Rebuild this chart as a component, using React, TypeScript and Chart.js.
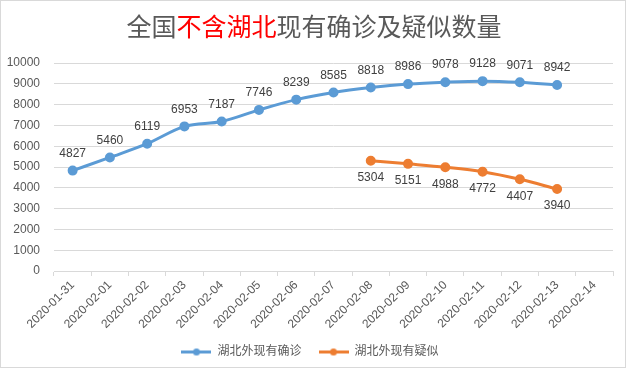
import React, { useEffect, useRef } from "react";
import { Chart, registerables } from "chart.js";

Chart.register(...registerables);

const categories = [
  "2020-01-31", "2020-02-01", "2020-02-02", "2020-02-03", "2020-02-04",
  "2020-02-05", "2020-02-06", "2020-02-07", "2020-02-08", "2020-02-09",
  "2020-02-10", "2020-02-11", "2020-02-12", "2020-02-13", "2020-02-14",
];
const confirmedValues: (number | null)[] = [
  4827, 5460, 6119, 6953, 7187, 7746, 8239, 8585, 8818, 8986, 9078, 9128, 9071, 8942, null,
];
const suspectedValues: (number | null)[] = [
  null, null, null, null, null, null, null, null, 5304, 5151, 4988, 4772, 4407, 3940, null,
];
const seriesNames = ["湖北外现有确诊", "湖北外现有疑似"];
const titleParts = [
  { text: "全国", red: false },
  { text: "不含湖北", red: true },
  { text: "现有确诊及疑似数量", red: false },
];

const BLUE = "#5B9BD5";
const ORANGE = "#ED7D31";
const FONT = "'Liberation Sans', 'Noto Sans CJK SC', sans-serif";

function makeMarker(color: string): HTMLCanvasElement {
  const c = document.createElement("canvas");
  c.width = 30;
  c.height = 9;
  const ctx = c.getContext("2d")!;
  ctx.strokeStyle = color;
  ctx.lineWidth = 3;
  ctx.beginPath();
  ctx.moveTo(0, 4.5);
  ctx.lineTo(30, 4.5);
  ctx.stroke();
  ctx.fillStyle = color;
  ctx.beginPath();
  ctx.arc(15, 4.5, 3.5, 0, Math.PI * 2);
  ctx.fill();
  return c;
}

const bgPlugin = {
  id: "bg",
  beforeDraw(chart: any) {
    const { ctx, width, height } = chart;
    ctx.save();
    ctx.fillStyle = "#ffffff";
    ctx.fillRect(0, 0, width, height);
    ctx.strokeStyle = "#d9d9d9";
    ctx.lineWidth = 1;
    ctx.strokeRect(0.5, 0.5, width - 1, height - 1);
    ctx.restore();
  },
};

const titlePlugin = {
  id: "mixedTitle",
  afterDraw(chart: any) {
    const ctx = chart.ctx as CanvasRenderingContext2D;
    ctx.save();
    ctx.font = "25px 'Noto Sans CJK SC', sans-serif";
    ctx.textBaseline = "middle";
    ctx.textAlign = "left";
    const widths = titleParts.map((p) => ctx.measureText(p.text).width);
    const total = widths.reduce((a, b) => a + b, 0);
    let x = 314 - total / 2;
    titleParts.forEach((p, i) => {
      ctx.fillStyle = p.red ? "#FF0000" : "#595959";
      ctx.fillText(p.text, x, 26);
      x += widths[i];
    });
    ctx.restore();
  },
};

const labelPlugin = {
  id: "pointLabels",
  afterDatasetsDraw(chart: any) {
    const ctx = chart.ctx as CanvasRenderingContext2D;
    ctx.save();
    ctx.font = `12px ${FONT}`;
    ctx.fillStyle = "#404040";
    ctx.textAlign = "center";
    ctx.textBaseline = "middle";
    chart.data.datasets.forEach((ds: any, di: number) => {
      const meta = chart.getDatasetMeta(di);
      meta.data.forEach((pt: any, i: number) => {
        const v = ds.data[i];
        if (v === null || v === undefined) return;
        const dy = di === 0 ? -17 : 17;
        ctx.fillText(String(v), pt.x, pt.y + dy);
      });
    });
    ctx.restore();
  },
};

export default function App() {
  const ref = useRef<HTMLCanvasElement>(null);
  useEffect(() => {
    document.body.style.margin = "0";
    const markers = [makeMarker(BLUE), makeMarker(ORANGE)];
    const chart = new Chart(ref.current!, {
      type: "line",
      data: {
        labels: categories,
        datasets: [
          {
            label: seriesNames[0],
            data: confirmedValues,
            borderColor: BLUE,
            backgroundColor: BLUE,
            borderWidth: 3,
            pointRadius: 3.5,
            pointBackgroundColor: BLUE,
            pointBorderColor: BLUE,
            tension: 0.4,
            cubicInterpolationMode: "monotone",
          },
          {
            label: seriesNames[1],
            data: suspectedValues,
            borderColor: ORANGE,
            backgroundColor: ORANGE,
            borderWidth: 3,
            pointRadius: 3.5,
            pointBackgroundColor: ORANGE,
            pointBorderColor: ORANGE,
            tension: 0.4,
            cubicInterpolationMode: "monotone",
          },
        ],
      },
      options: {
        animation: false,
        responsive: false,
        layout: { padding: { top: 63, right: 13, bottom: 0, left: 7 } },
        scales: {
          x: {
            offset: true,
            grid: {
              display: true,
              offset: true,
              drawOnChartArea: false,
              drawTicks: true,
              tickLength: 5,
              color: "#d9d9d9",
            },
            border: { display: true, color: "#d9d9d9" },
            ticks: {
              autoSkip: false,
              maxRotation: 45,
              minRotation: 45,
              color: "#595959",
              font: { family: FONT, size: 12 },
              padding: 2,
            },
            afterFit(scale: any) {
              scale.height = 58;
            },
          },
          y: {
            min: 0,
            max: 10000,
            ticks: {
              stepSize: 1000,
              color: "#595959",
              font: { family: FONT, size: 12 },
              padding: 14,
              callback: (v: any) => String(v),
            },
            grid: { color: "#d9d9d9", drawTicks: false },
            border: { display: false },
            afterFit(scale: any) {
              scale.width = 47;
            },
          },
        },
        plugins: {
          title: { display: false },
          tooltip: { enabled: false },
          legend: {
            position: "bottom",
            labels: {
              usePointStyle: true,
              pointStyleWidth: 30,
              boxHeight: 9,
              padding: 17,
              color: "#595959",
              font: { family: FONT, size: 12 },
              generateLabels(chart: any) {
                return chart.data.datasets.map((ds: any, i: number) => ({
                  text: ds.label,
                  pointStyle: markers[i],
                  fillStyle: ds.borderColor,
                  strokeStyle: ds.borderColor,
                  lineWidth: 0,
                  fontColor: "#595959",
                  datasetIndex: i,
                  hidden: false,
                }));
              },
            },
          },
        },
      } as any,
      plugins: [bgPlugin, titlePlugin, labelPlugin],
    });
    return () => chart.destroy();
  }, []);
  return (
    <div style={{ width: 626, height: 368 }}>
      <canvas ref={ref} width={626} height={368} />
    </div>
  );
}
